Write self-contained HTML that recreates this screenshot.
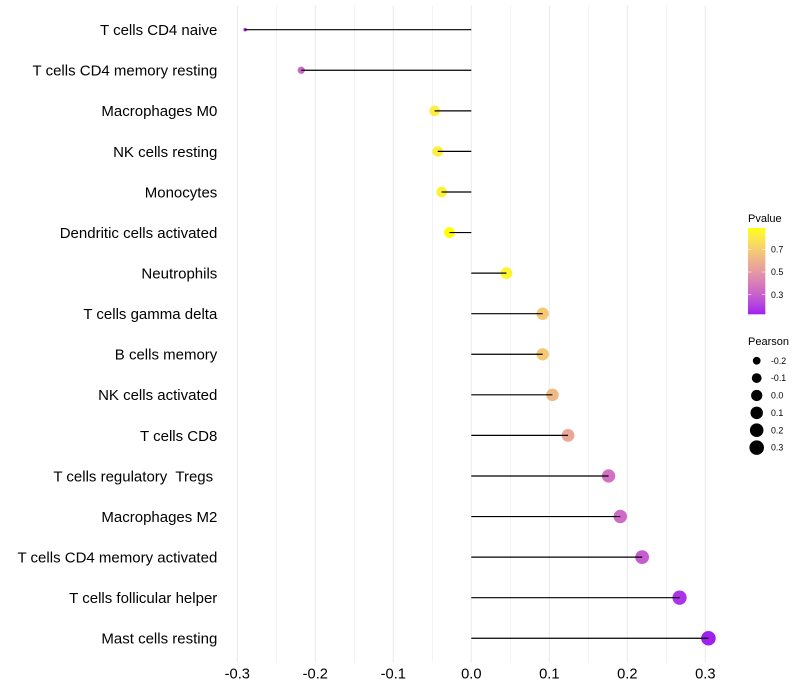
<!DOCTYPE html>
<html>
<head>
<meta charset="utf-8">
<title>Immune cell correlation lollipop chart</title>
<style>
html,body{margin:0;padding:0;background:#fff;width:800px;height:700px;overflow:hidden}
svg{display:block;font-family:"Liberation Sans",Arial,sans-serif}
text{white-space:pre}
</style>
</head>
<body>
<svg id="chart" width="800" height="700" viewBox="0 0 800 700" xmlns="http://www.w3.org/2000/svg">
<rect width="800" height="700" fill="#ffffff"/>
<g id="grid"></g>
<g id="xticks"></g>
<g id="ylabels"></g>
<g id="marks"></g>
<g id="color-legend">
<text x="748" y="222" font-size="11" fill="#000">Pvalue</text>
</g>
<g id="size-legend">
<text x="748" y="345" font-size="11" fill="#000">Pearson</text>
</g>
</svg>
<script>
const categories = ["T cells CD4 naive","T cells CD4 memory resting","Macrophages M0","NK cells resting","Monocytes","Dendritic cells activated","Neutrophils","T cells gamma delta","B cells memory","NK cells activated","T cells CD8","T cells regulatory  Tregs ","Macrophages M2","T cells CD4 memory activated","T cells follicular helper","Mast cells resting"];
const pearson = [-0.290,-0.218,-0.047,-0.043,-0.038,-0.028,0.045,0.0915,0.0915,0.104,0.124,0.176,0.191,0.219,0.267,0.304];
const pvalue = [0.13,0.32,0.82,0.83,0.84,0.888,0.85,0.68,0.68,0.62,0.55,0.36,0.34,0.29,0.17,0.13];
const xTicks = [-0.3,-0.2,-0.1,0.0,0.1,0.2,0.3];
const xMinorTicks = [-0.25,-0.15,-0.05,0.05,0.15,0.25];
const colorTicks = [0.7,0.5,0.3];
const sizeLegendValues = [-0.2,-0.1,0.0,0.1,0.2,0.3];
const pDomain = [0.13,0.888];

const NS = "http://www.w3.org/2000/svg";
function make(parent, tag, attrs){
  const el = document.createElementNS(NS, tag);
  for (const k in attrs) el.setAttribute(k, attrs[k]);
  parent.appendChild(el);
  return el;
}
// Axis functions
function xScale(v){ return 471.3 + v * 780; }
function yScale(i){ return 29.7 + i * 40.57; }
const pearsonMin = Math.min(...pearson), pearsonMax = Math.max(...pearson);
function rScale(v){
  const t = Math.max(0, (v - pearsonMin) / ((pearsonMax - pearsonMin) || 1));
  return 1.7 + 5.6 * Math.sqrt(t);
}
function toLab(r,g,b){
  const f = c => { c/=255; return c<=0.04045 ? c/12.92 : Math.pow((c+0.055)/1.055,2.4); };
  const R=f(r),G=f(g),B=f(b);
  const X=(0.4124564*R+0.3575761*G+0.1804375*B)/0.95047,Y=0.2126729*R+0.7151522*G+0.072175*B,Z=(0.0193339*R+0.119192*G+0.9503041*B)/1.08883;
  const h = t => t>0.008856 ? Math.cbrt(t) : 7.787*t+16/116;
  return [116*h(Y)-16, 500*(h(X)-h(Y)), 200*(h(Y)-h(Z))];
}
function fromLab(L,a,b){
  const fy=(L+16)/116, fx=a/500+fy, fz=fy-b/200;
  const h = t => t*t*t>0.008856 ? t*t*t : (t-16/116)/7.787;
  const X=h(fx)*0.95047,Y=h(fy),Z=h(fz)*1.08883;
  const R=3.2404542*X-1.5371385*Y-0.4985314*Z,G=-0.969266*X+1.8760108*Y+0.041556*Z,B=0.0556434*X-0.2040259*Y+1.0572252*Z;
  const g = c => { c=Math.max(0,Math.min(1,c)); return Math.round(255*(c<=0.0031308?12.92*c:1.055*Math.pow(c,1/2.4)-0.055)); };
  return "rgb("+g(R)+","+g(G)+","+g(B)+")";
}
const labLow = toLab(160,32,240), labHigh = toLab(255,255,0);
function colorScale(p){
  const t = Math.max(0, Math.min(1, (p - pDomain[0]) / (pDomain[1] - pDomain[0])));
  return fromLab(labLow[0]+(labHigh[0]-labLow[0])*t, labLow[1]+(labHigh[1]-labLow[1])*t, labLow[2]+(labHigh[2]-labLow[2])*t);
}
function legendBarY(p){ return 272 + (0.5 - p) * 113.5; }

// Grid
const grid = document.getElementById("grid");
xMinorTicks.forEach(v => {
  const l = make(grid, "line", {x1:xScale(v),x2:xScale(v),y1:5.4,y2:662.6,stroke:"#ebebeb","stroke-width":0.55});
  
  
});
xTicks.forEach(v => {
  const l = make(grid, "line", {x1:xScale(v),x2:xScale(v),y1:5.4,y2:662.6,stroke:"#ebebeb","stroke-width":1.07});
  
  
});

// X tick labels
const xg = document.getElementById("xticks");
xTicks.forEach(v => {
  const t = make(xg, "text", {x:xScale(v),y:678.4,"text-anchor":"middle","font-size":14.7,fill:"#000"});
  t.textContent = v.toFixed(1);
  
  
});

// Y labels
const yg = document.getElementById("ylabels");
categories.forEach((c,i) => {
  const t = make(yg, "text", {x:217.3,y:yScale(i)+5.4,"text-anchor":"end","font-size":15,fill:"#000"});
  t.textContent = c;
  
  
});

// Marks
const mg = document.getElementById("marks");
pearson.forEach((v,i) => {
  const c = make(mg, "circle", {cx:xScale(v),cy:yScale(i),r:rScale(v),fill:colorScale(pvalue[i])});
  
  
  const l = make(mg, "line", {x1:xScale(0),x2:xScale(v),y1:yScale(i),y2:yScale(i),stroke:"#000","stroke-width":1.2});
  
  
});

// Colour legend
const cl = document.getElementById("color-legend");
const barSteps = 86;
for (let i = 0; i < barSteps; i++) {
  const r = make(cl, "rect", {x:748,y:228+i,width:17.3,height:1.3,fill:colorScale(pDomain[1]-(pDomain[1]-pDomain[0])*(i+0.5)/barSteps)});
  
  
}
colorTicks.forEach(p => {
  const y = legendBarY(p);
  const a = make(cl, "line", {x1:748,x2:751.5,y1:y,y2:y,stroke:"#fff","stroke-width":0.55});
  
  
  const b = make(cl, "line", {x1:761.8,x2:765.3,y1:y,y2:y,stroke:"#fff","stroke-width":0.55});
  
  
  const t = make(cl, "text", {x:771,y:y+3.1,"font-size":8.8,fill:"#000"});
  t.textContent = p.toFixed(1);
  
  
});

// Size legend
const sl = document.getElementById("size-legend");
sizeLegendValues.forEach((v,i) => {
  const y = 360.7 + i * 17.38;
  const c = make(sl, "circle", {cx:756.7,cy:y,r:rScale(v),fill:"#000"});
  
  
  const t = make(sl, "text", {x:771,y:y+3.1,"font-size":8.8,fill:"#000"});
  t.textContent = v.toFixed(1);
  
  
});
</script>
</body>
</html>
